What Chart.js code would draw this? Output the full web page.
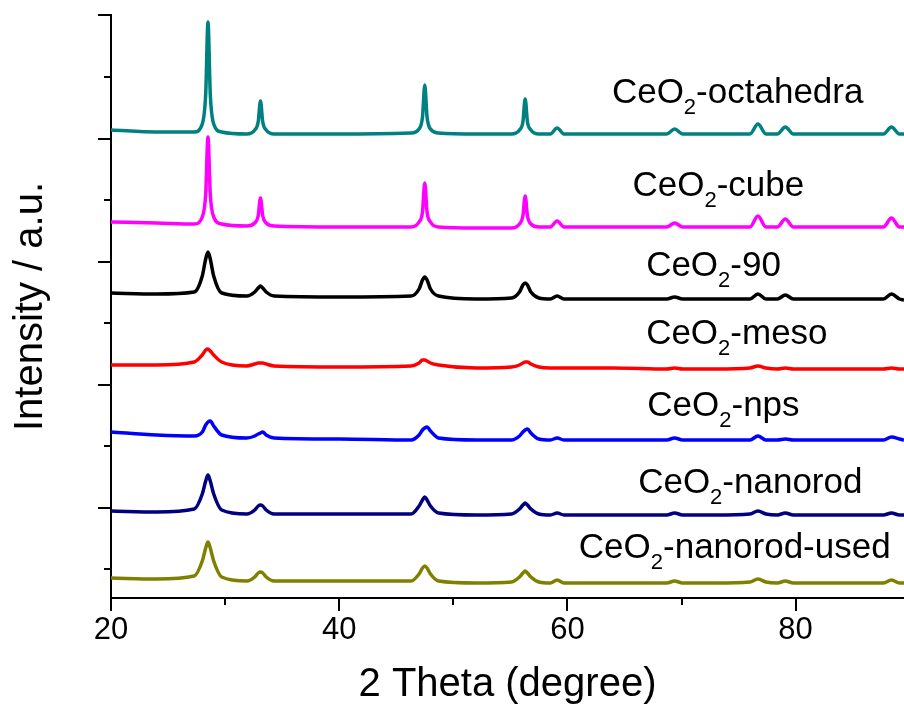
<!DOCTYPE html>
<html>
<head>
<meta charset="utf-8">
<script src="https://cdn.jsdelivr.net/npm/chart.js@4/dist/chart.umd.min.js"></script>
<style>
  html, body { margin: 0; padding: 0; background: #fff; }
  #wrap { width: 904px; height: 713px; }
</style>
</head>
<body>
<div id="wrap"><canvas id="xrd" width="904" height="713"></canvas></div>
<script>
// 2 theta sample positions (degree)
const twoTheta = [
  20, 24, 27.3, 28.0, 28.3, 28.5, 28.7, 29.0, 29.7,
  31.9, 32.6, 32.9, 33.1, 33.3, 33.6, 34.3,
  40, 46.3, 47.0, 47.3, 47.5, 47.7, 48.0, 48.7,
  52, 55.1, 55.8, 56.1, 56.3, 56.5, 56.8, 57.5,
  58.5, 59.1, 59.7,
  64, 68.7, 69.4, 70.1,
  73, 76.0, 76.7, 77.4,
  78.4, 79.1, 79.8,
  84, 87.7, 88.4, 89.1, 89.5
]

// intensities (a.u., already stacked)
const octahedra = [
  468, 466, 466, 474, 504, 576, 504, 474, 466,
  464, 468, 476, 497, 476, 468, 464,
  464, 465, 469, 481, 513, 481, 469, 465,
  464, 464, 468, 476, 499, 476, 468, 464,
  464, 470, 464,
  464, 464, 469, 464,
  464, 464, 474, 464,
  464, 471, 464,
  464, 464, 471, 464, 464
]
const cube = [
  376, 375, 374, 381, 404, 461, 404, 381, 374,
  372, 375, 382, 400, 382, 375, 372,
  371, 371, 376, 386, 415, 386, 376, 371,
  370, 370, 374, 382, 402, 382, 374, 371,
  371, 377, 371,
  371, 371, 375, 371,
  371, 371, 382, 371,
  371, 379, 371,
  371, 371, 380, 371, 371
]
const ceo90 = [
  305, 304, 306, 322, 339, 346, 339, 322, 305,
  302, 306, 310, 312, 310, 306, 302,
  301, 302, 309, 318, 321, 318, 309, 302,
  299, 300, 306, 313, 315, 313, 306, 300,
  299, 302, 299,
  299, 299, 301, 299,
  299, 299, 304, 299,
  299, 303, 299,
  299, 299, 304, 299, 298
]
const meso = [
  233, 233, 236, 243, 248, 249, 247, 243, 236,
  232, 234, 235, 235, 235, 234, 232,
  231, 232, 235, 238, 238, 237, 235, 233,
  230, 231, 233, 235, 236, 236, 234, 231,
  230, 230, 230,
  230, 229, 230, 229,
  229, 230, 232, 230,
  229, 230, 229,
  229, 229, 230, 229, 229
]
const nps = [
  166, 163, 162, 166, 173, 176, 177, 172, 163,
  160, 162, 164, 165, 166, 163, 160,
  159, 158, 163, 168, 170, 171, 167, 160,
  158, 158, 162, 166, 168, 169, 165, 159,
  158, 160, 158,
  158, 158, 160, 158,
  158, 158, 162, 158,
  158, 159, 158,
  158, 158, 161, 159, 158
]
const nanorod = [
  87, 86, 89, 104, 117, 123, 117, 104, 88,
  84, 88, 92, 93, 92, 88, 84,
  84, 84, 92, 98, 101, 98, 92, 85,
  83, 84, 89, 93, 95, 93, 89, 84,
  83, 85, 83,
  83, 83, 85, 83,
  83, 84, 87, 84,
  83, 85, 83,
  83, 83, 85, 83, 83
]
const nanorodUsed = [
  20, 19, 22, 37, 50, 56, 50, 37, 21,
  17, 21, 25, 26, 25, 21, 17,
  17, 17, 24, 30, 32, 30, 24, 17,
  15, 16, 21, 25, 27, 25, 21, 16,
  15, 18, 15,
  15, 15, 17, 15,
  15, 16, 19, 16,
  15, 17, 15,
  15, 15, 18, 15, 15
]

const sampleNames = ["octahedra", "cube", "90", "meso", "nps", "nanorod", "nanorod-used"]
const sampleSeries = [octahedra, cube, ceo90, meso, nps, nanorod, nanorodUsed]
// where each sample name sits (2 theta, intensity of text baseline)
const labelTheta = [63.9, 65.7, 66.9, 66.9, 67.0, 66.2, 61.0]
const labelLevel = [495, 402, 322, 254, 182, 105, 40]

const xMajorTicks = [20, 40, 60, 80]
const xMinorTicks = [30, 50, 70]
const yMajorTicks = [90, 213, 336, 459, 583]
const yMinorTicks = [29, 152, 275, 398, 521]

const colors = ["#008080", "#ff00ff", "#000000", "#ff0000", "#0000ff", "#000080", "#808000"]
const FONT = "'Liberation Sans', Arial, sans-serif"

const axisMarks = {
  id: "axisMarks",
  afterDraw(chart) {
    const { ctx, chartArea } = chart
    const { x, y } = chart.scales
    ctx.save()
    ctx.strokeStyle = "#000"
    ctx.lineWidth = 2
    ctx.beginPath()
    xMajorTicks.forEach((v) => {
      const px = Math.round(x.getPixelForValue(v))
      ctx.moveTo(px, chartArea.bottom); ctx.lineTo(px, chartArea.bottom + 13)
    })
    xMinorTicks.forEach((v) => {
      const px = Math.round(x.getPixelForValue(v))
      ctx.moveTo(px, chartArea.bottom); ctx.lineTo(px, chartArea.bottom + 7)
    })
    yMajorTicks.forEach((v) => {
      const py = Math.round(y.getPixelForValue(v))
      ctx.moveTo(chartArea.left, py); ctx.lineTo(chartArea.left - 13, py)
    })
    yMinorTicks.forEach((v) => {
      const py = Math.round(y.getPixelForValue(v))
      ctx.moveTo(chartArea.left, py); ctx.lineTo(chartArea.left - 7, py)
    })
    ctx.stroke()

    // sample names, CeO2 with subscript
    ctx.fillStyle = "#000"
    ctx.textBaseline = "alphabetic"
    ctx.textAlign = "left"
    sampleNames.forEach((name, i) => {
      let px = x.getPixelForValue(labelTheta[i])
      const py = y.getPixelForValue(labelLevel[i])
      ctx.font = `35px ${FONT}`
      ctx.fillText("CeO", px, py)
      px += ctx.measureText("CeO").width
      ctx.font = `22px ${FONT}`
      ctx.fillText("2", px, py + 11)
      px += ctx.measureText("2").width
      ctx.font = `35px ${FONT}`
      ctx.fillText("-" + name, px, py)
    })
    ctx.restore()
  }
}

new Chart(document.getElementById("xrd"), {
  type: "line",
  data: {
    datasets: sampleSeries.map((series, i) => ({
      label: sampleNames[i],
      data: twoTheta.map((t, k) => ({ x: t, y: series[k] })),
      borderColor: colors[i],
      borderWidth: 3.5,
      pointRadius: 0,
      cubicInterpolationMode: "monotone",
      borderJoinStyle: "round",
      fill: false
    }))
  },
  options: {
    responsive: false,
    animation: false,
    layout: { padding: { top: 15, right: 0, left: 0, bottom: 0 } },
    plugins: { legend: { display: false }, tooltip: { enabled: false } },
    scales: {
      x: {
        type: "linear",
        min: 20,
        max: 89.5,
        grid: { display: false, drawTicks: false },
        border: { display: true, color: "#000", width: 2 },
        ticks: {
          stepSize: 10,
          includeBounds: false,
          autoSkip: false,
          maxRotation: 0,
          padding: 14,
          color: "#000",
          font: { family: FONT, size: 31 },
          callback: (v) => (v % 20 === 0 ? v : "")
        },
        title: {
          display: true,
          text: "2 Theta (degree)",
          color: "#000",
          font: { family: FONT, size: 40 },
          padding: { top: 0, bottom: 4 }
        },
        afterFit: (s) => {
          s.height = 115
          s.paddingLeft = 0
          s.paddingRight = 0
        }
      },
      y: {
        type: "linear",
        min: 0,
        max: 583,
        grid: { display: false, drawTicks: false },
        border: { display: true, color: "#000", width: 2 },
        ticks: { display: false },
        title: {
          display: true,
          text: "Intensity / a.u.",
          color: "#000",
          font: { family: FONT, size: 40 },
          padding: { top: 7, bottom: 0 }
        },
        afterFit: (s) => {
          s.width = 111
          s.paddingTop = 0
          s.paddingBottom = 0
        }
      }
    }
  },
  plugins: [axisMarks]
})
</script>
</body>
</html>
